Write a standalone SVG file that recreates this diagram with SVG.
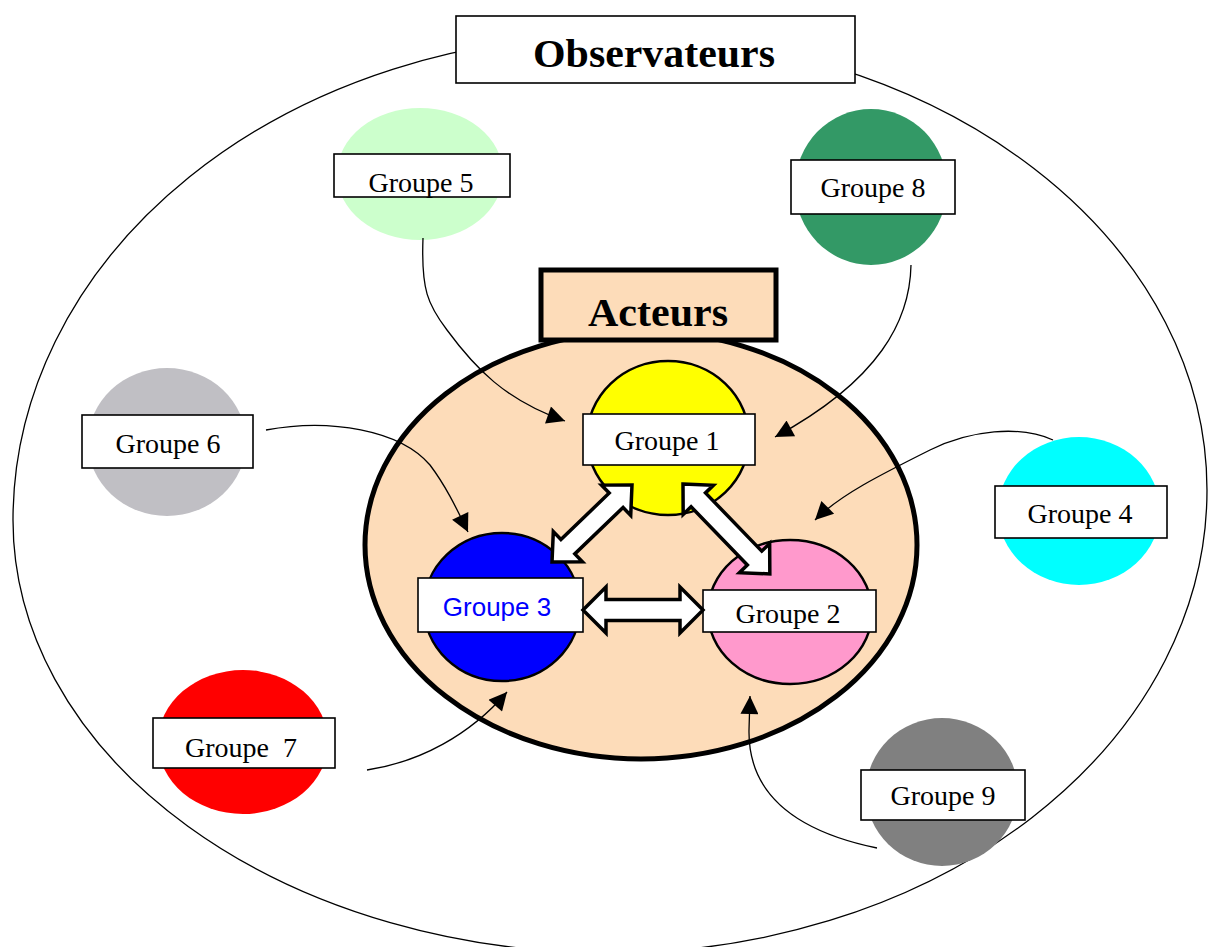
<svg xmlns="http://www.w3.org/2000/svg" width="1208" height="947" viewBox="0 0 1208 947">
<style>
.lbl{font-family:"Liberation Serif","Times New Roman",serif;font-size:28px;text-anchor:middle;fill:#000}
.box{fill:#fff;stroke:#000;stroke-width:1.6}
.act{stroke:#000;stroke-width:2.5}
.con{fill:none;stroke:#000;stroke-width:1.3}
.blk{fill:#fff;stroke:#000;stroke-width:3.5;stroke-linejoin:miter}
.title{font-family:"Liberation Serif","Times New Roman",serif;font-weight:bold;font-size:40px;text-anchor:middle;fill:#000}
</style>
<defs>
<marker id="ah" viewBox="0 0 10 10" refX="10" refY="5" markerUnits="userSpaceOnUse" markerWidth="22" markerHeight="18" orient="auto">
<path d="M0,0 L10,5 L0,10 z" fill="#000"/>
</marker>
</defs>
<rect width="1208" height="947" fill="#fff"/>
<g id="observateurs">
<path d="M13,520 A602,485 0 0 1 615,35 A592,455 0 0 1 1207,490 A597,463 0 0 1 610,953 A597,433 0 0 1 13,520 Z" fill="none" stroke="#000" stroke-width="1.3"/>
<rect x="456" y="16" width="399" height="67" class="box"/>
<text x="654" y="67" class="title" textLength="242" lengthAdjust="spacingAndGlyphs">Observateurs</text>
</g>
<g id="acteurs">
<ellipse cx="641" cy="545" rx="276" ry="214" fill="#FDDCB9" stroke="#000" stroke-width="5"/>
<rect x="541" y="270" width="235" height="70" fill="#FDDCB9" stroke="#000" stroke-width="5"/>
<text x="658" y="326" class="title" textLength="140" lengthAdjust="spacingAndGlyphs">Acteurs</text>
</g>
<g id="groupe5">
<ellipse cx="420" cy="174" rx="83" ry="66" fill="#CCFFCC"/>
<rect x="334" y="154" width="176" height="43" class="box"/>
<text x="421" y="192" class="lbl">Groupe 5</text>
</g>
<g id="groupe6">
<ellipse cx="167" cy="442" rx="79" ry="74" fill="#C0BFC4"/>
<rect x="82" y="415" width="171" height="53" class="box"/>
<text x="168" y="453" class="lbl">Groupe 6</text>
</g>
<g id="groupe8">
<ellipse cx="871" cy="187" rx="76" ry="78" fill="#339966"/>
<rect x="791" y="160" width="164" height="54" class="box"/>
<text x="873" y="197" class="lbl">Groupe 8</text>
</g>
<g id="groupe4">
<ellipse cx="1079" cy="511" rx="81" ry="74" fill="#00FFFF"/>
<rect x="995" y="486" width="172" height="52" class="box"/>
<text x="1080" y="523" class="lbl">Groupe 4</text>
</g>
<g id="groupe7">
<ellipse cx="243" cy="742" rx="85" ry="72" fill="#FF0000"/>
<rect x="153" y="718" width="182" height="50" class="box"/>
<text x="241" y="757" class="lbl" xml:space="preserve">Groupe  7</text>
</g>
<g id="groupe9">
<ellipse cx="942" cy="792" rx="76" ry="74" fill="#808080"/>
<rect x="861" y="770" width="164" height="50" class="box"/>
<text x="943" y="805" class="lbl">Groupe 9</text>
</g>
<g id="groupe1">
<ellipse cx="668" cy="438" rx="81" ry="77" fill="#FFFF00" class="act"/>
<rect x="583" y="414" width="172" height="51" class="box"/>
<text x="667" y="450" class="lbl">Groupe 1</text>
</g>
<g id="groupe3">
<ellipse cx="502" cy="607" rx="78" ry="74" fill="#0000FF" class="act"/>
<rect x="418" y="578" width="165" height="54" class="box"/>
<text x="497" y="616" style="font-family:'Liberation Sans',Arial,sans-serif;font-size:26px;text-anchor:middle;fill:#0000FF">Groupe 3</text>
</g>
<g id="groupe2">
<ellipse cx="790" cy="612" rx="82" ry="72" fill="#FF99CC" class="act"/>
<rect x="703" y="590" width="173" height="42" class="box"/>
<text x="788" y="623" class="lbl">Groupe 2</text>
</g>
<g id="connectors">
<path class="con" marker-end="url(#ah)" d="M423,238 C421,290 428,305 447,330 C475,368 505,400 565,421"/>
<path class="con" marker-end="url(#ah)" d="M911,265 C910,320 880,380 775,437"/>
<path class="con" marker-end="url(#ah)" d="M266,430 C330,418 400,430 430,465 C445,485 455,505 468,532"/>
<path class="con" marker-end="url(#ah)" d="M1053,440 C1020,425 970,430 930,450 C880,475 840,495 815,520"/>
<path class="con" marker-end="url(#ah)" d="M367,770 C420,762 470,735 507,692"/>
<path class="con" marker-end="url(#ah)" d="M877,848 C790,830 748,790 749,730 L750,696"/>
<g transform="translate(632,485) rotate(136.1)">
<polygon class="blk" points="0,0 22,-21 22,-10 89,-10 89,-21 111,0 89,21 89,10 22,10 22,21"/>
</g>
<g transform="translate(683,484) rotate(46)">
<polygon class="blk" points="0,0 22,-21 22,-10 103,-10 103,-21 125,0 103,21 103,10 22,10 22,21"/>
</g>
<g transform="translate(583,610)">
<polygon class="blk" points="0,0 23,-23 23,-10.5 97,-10.5 97,-23 120,0 97,23 97,10.5 23,10.5 23,23"/>
</g>
</g>
</svg>
